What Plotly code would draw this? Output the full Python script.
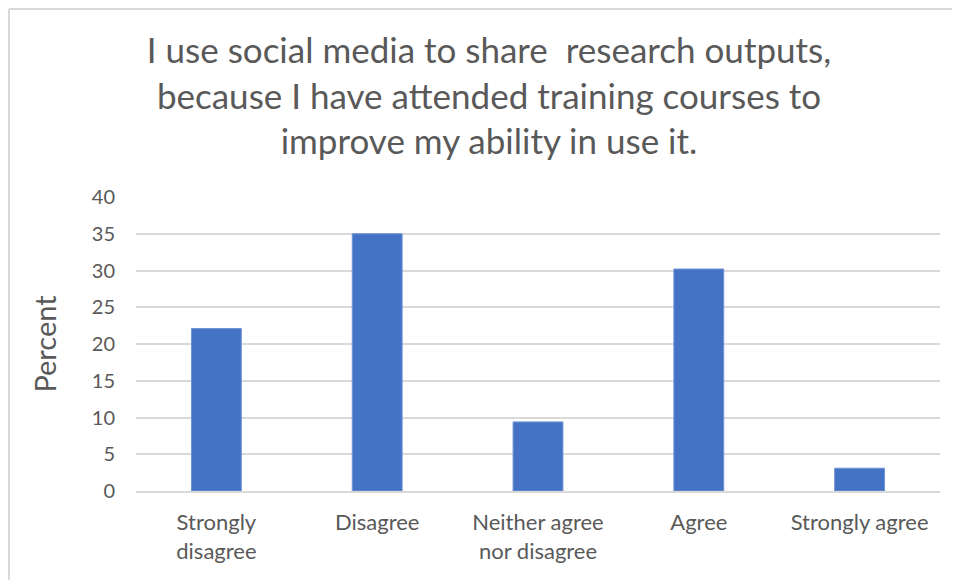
import plotly.graph_objects as go

categories = ["Strongly<br>disagree", "Disagree", "Neither agree<br>nor disagree", "Agree", "Strongly agree"]
percent = [22.1, 35.0, 9.4, 30.2, 3.1]
y_ticks = [0, 5, 10, 15, 20, 25, 30, 35, 40]

title_text = ("I use social media to share  research outputs,<br>"
              "because I have attended training courses to<br>"
              "improve my ability in use it.")

FONT = "Lato, Calibri, Carlito, sans-serif"
GREY = "#595959"

# page has an 8px body offset; plot area spans page x 136..940, y 197..491
L, T, R, B = 128, 189, 28, 97
PW, PH = 960 - L - R, 580 - T - B

fig = go.Figure(go.Bar(
    x=categories, y=percent,
    marker=dict(color="#4472C4", line=dict(color="#6f93d6", width=1)),
    width=0.31,
))

fig.update_layout(
    width=960, height=580,
    paper_bgcolor="white", plot_bgcolor="white",
    margin=dict(l=L, r=R, t=T, b=B),
    font=dict(family=FONT, color=GREY),
    showlegend=False,
    title=dict(text=title_text, x=481/960, xanchor="center", xref="container",
               y=1 - 55/580, yanchor="top", yref="container",
               font=dict(size=35, color=GREY, family=FONT)),
)

fig.update_xaxes(
    showgrid=False, showline=True, linecolor="#d9d9d9", linewidth=2,
    ticks="outside", ticklen=11, tickcolor="rgba(0,0,0,0)",
    tickfont=dict(size=22, color=GREY, family=FONT),
    range=[-0.5, 4.5],
)
fig.update_yaxes(
    range=[0, 40], tickvals=y_ticks, showgrid=True, gridcolor="#d9d9d9", gridwidth=2,
    zeroline=False, showline=False,
    ticks="outside", ticklen=16, tickcolor="rgba(0,0,0,0)",
    tickfont=dict(size=20, color=GREY, family=FONT),
    title=dict(text="Percent", font=dict(size=29, color=GREY, family=FONT), standoff=26),
)

# chart-area border (top and left edges visible in the frame)
ytop = (PH + T - 1.0) / PH   # fig y = 1
xl = (1 - L) / PW            # fig x = 1
fig.add_shape(type="line", xref="paper", yref="paper", layer="above",
              x0=xl, x1=(980 - L) / PW, y0=ytop, y1=ytop,
              line=dict(color="#d9d9d9", width=2))
fig.add_shape(type="line", xref="paper", yref="paper", layer="above",
              x0=xl, x1=xl, y0=ytop, y1=-(B + 20) / PH,
              line=dict(color="#d9d9d9", width=2))

fig.write_html("out.html")
